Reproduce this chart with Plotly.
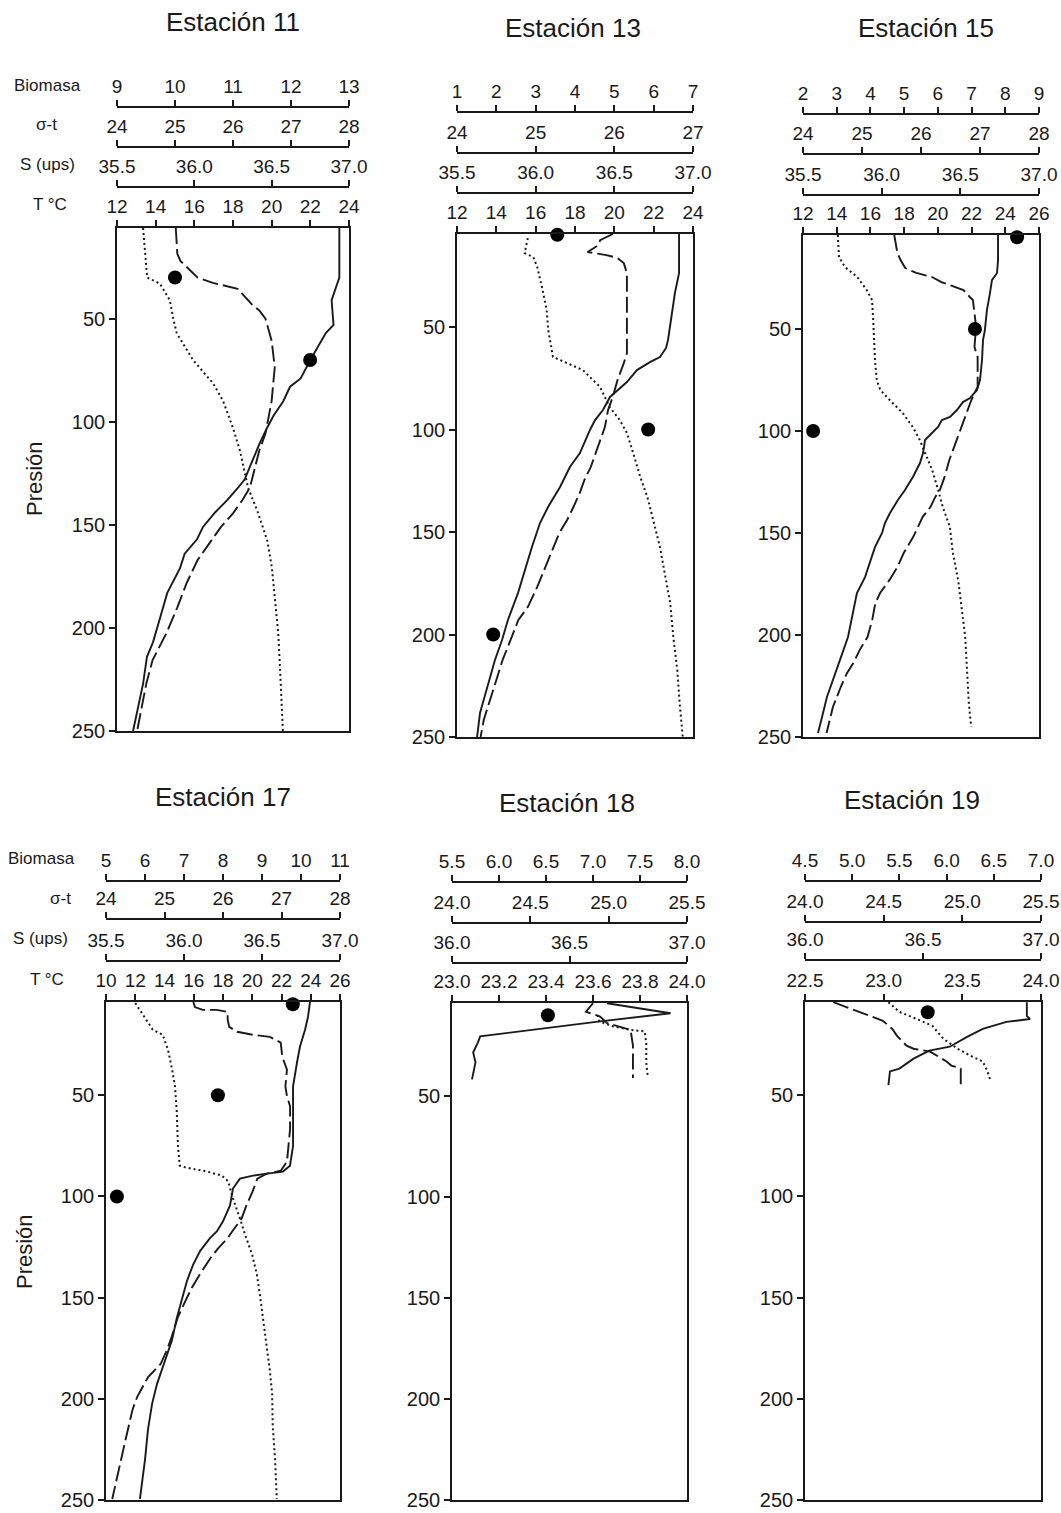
import plotly.graph_objects as go

# ---------------- data: pressure (dbar) vs. property, per station ----------------
# Estación 11
e11_p_temp = [6, 30, 41, 50, 53, 57, 70, 79, 83, 90, 97, 103, 110, 119, 128, 132, 138, 144, 151, 157,
              164, 171, 183, 196, 207, 214, 227, 250]
e11_temp = [23.5, 23.5, 23.1, 23.2, 23.2, 22.8, 22.0, 21.5, 20.95, 20.6, 20.1, 19.76, 19.4, 19.0, 18.6,
            18.26, 17.7, 17.07, 16.45, 16.14, 15.5, 15.26, 14.6, 14.2, 13.86, 13.55, 13.35, 12.83]
e11_p_sal = [6, 18.5, 22, 30, 32.6, 35.5, 38, 43.7, 46, 50, 60.7, 73.7, 81.5, 89.7, 97.9, 105.7, 113.9,
             122.2, 131.8, 138.1, 144.4, 151.2, 160.9, 167.2, 178.3, 190, 202.5, 215.6, 226.8, 250]
e11_sal = [35.88, 35.89, 35.91, 36.02, 36.12, 36.28, 36.31, 36.38, 36.42, 36.46, 36.50, 36.52, 36.51,
           36.50, 36.48, 36.46, 36.42, 36.39, 36.36, 36.31, 36.25, 36.17, 36.08, 36.02, 35.95, 35.89,
           35.82, 35.73, 35.69, 35.63]
e11_p_sig = [6, 30, 33, 41, 50, 57, 70, 81.5, 90, 103, 114, 125, 132, 144, 157.5, 170.6, 186.6, 202.5,
             219, 235, 250]
e11_sig = [24.45, 24.52, 24.74, 24.91, 24.97, 25.03, 25.31, 25.66, 25.83, 26.0, 26.12, 26.21, 26.26,
           26.43, 26.59, 26.67, 26.72, 26.78, 26.81, 26.84, 26.86]
e11_p_bio = [30, 70]
e11_bio = [10.0, 12.33]

# Estación 13
e13_p_temp = [4.6, 23.7, 33.4, 43.2, 51.5, 56.3, 60.2, 64.6, 67.1, 71, 76.8, 84.1, 90.5, 95.4, 100.2,
              111.5, 118.3, 128, 137.8, 145.6, 157.3, 168.5, 179.8, 192.9, 202.7, 212.4, 225.6, 238.3, 250]
e13_temp = [23.29, 23.29, 23.08, 22.93, 22.78, 22.73, 22.63, 22.32, 21.81, 21.15, 20.64, 19.78, 19.42,
            19.02, 18.76, 18.25, 17.74, 17.24, 16.63, 16.22, 15.81, 15.46, 15.10, 14.59, 14.29, 13.93,
            13.53, 13.17, 13.02]
e13_p_sal = [4.6, 7.6, 10, 13.4, 14.9, 16.3, 18.8, 23.7, 51.5, 62.7, 67.6, 75.9, 84.1, 90.5, 98.8, 105.1,
             111.5, 118.3, 124.6, 131, 137.8, 144.1, 150.5, 160.2, 167.1, 176.8, 186.6, 192.9, 202.7,
             212.4, 222.2, 232, 241.7, 250]
e13_sal = [36.49, 36.41, 36.40, 36.33, 36.45, 36.52, 36.56, 36.58, 36.58, 36.58, 36.56, 36.52, 36.49,
           36.46, 36.44, 36.41, 36.38, 36.35, 36.31, 36.28, 36.24, 36.20, 36.15, 36.10, 36.06, 36.01,
           35.95, 35.89, 35.84, 35.79, 35.75, 35.71, 35.67, 35.65]
e13_p_sig = [6.6, 13.9, 15.9, 20.7, 30.5, 41.7, 51.5, 56.3, 64.6, 67.6, 71, 79.3, 89, 95.4, 101.7, 111.5,
             123.2, 132.9, 144.1, 157.3, 170, 184.6, 201.2, 217.3, 233.4, 250]
e13_sig = [24.90, 24.86, 24.97, 25.02, 25.08, 25.14, 25.16, 25.18, 25.22, 25.40, 25.60, 25.82, 25.94,
           26.07, 26.16, 26.24, 26.33, 26.42, 26.49, 26.58, 26.64, 26.71, 26.75, 26.80, 26.83, 26.87]
e13_p_bio = [5, 100, 200]
e13_bio = [3.55, 5.86, 1.92]

# Estación 15
e15_p_temp = [3.9, 16.2, 22.5, 26, 32.4, 40.7, 50.5, 55.4, 65.2, 75, 79.9, 83.8, 85.8, 89.7, 93.1, 94.6,
              98, 102, 104.4, 110.8, 115.7, 122.5, 128.9, 133.8, 140.2, 145.1, 150, 156.9, 164.7, 171.6,
              179.4, 189.2, 201, 212.3, 222, 230.4, 240.2, 248]
e15_temp = [23.57, 23.57, 23.51, 23.21, 23.09, 22.91, 22.79, 22.68, 22.62, 22.50, 22.32, 21.91, 21.49,
            21.13, 20.72, 20.24, 20.01, 19.53, 19.24, 19.12, 18.94, 18.52, 18.05, 17.63, 17.16, 16.86,
            16.69, 16.27, 15.97, 15.68, 15.20, 14.97, 14.67, 14.19, 13.78, 13.42, 13.13, 12.89]
e15_p_sal = [3.9, 12.7, 16.2, 20.1, 22.5, 24.5, 27, 30.9, 34.3, 35.8, 42.2, 49, 58.8, 63.7, 71.6, 78.4,
             84.8, 91.2, 99.5, 105.9, 114.2, 122.5, 128.9, 132.4, 137.3, 142.2, 147.1, 152, 159.8, 166.7,
             173, 179.4, 184.3, 192.6, 201, 207.4, 213.7, 218.6, 225.5, 235.3, 241.7, 248]
e15_sal = [36.08, 36.10, 36.12, 36.15, 36.22, 36.32, 36.38, 36.52, 36.56, 36.58, 36.59, 36.60, 36.59,
           36.61, 36.61, 36.61, 36.57, 36.54, 36.50, 36.47, 36.43, 36.40, 36.37, 36.34, 36.31, 36.26,
           36.23, 36.20, 36.14, 36.10, 36.05, 35.99, 35.96, 35.94, 35.91, 35.86, 35.82, 35.78, 35.74,
           35.69, 35.67, 35.65]
e15_p_sig = [3.9, 14.7, 19.6, 24.5, 30.9, 35.8, 45.6, 55.4, 65.2, 75, 79.9, 84.8, 91.2, 98, 104.4, 110.8,
             119.1, 128.9, 137.3, 147.1, 159.8, 173, 186.3, 201, 217.2, 233.3, 245.1]
e15_sig = [24.59, 24.61, 24.71, 24.92, 25.08, 25.17, 25.19, 25.20, 25.22, 25.25, 25.31, 25.47, 25.69,
           25.86, 25.98, 26.07, 26.19, 26.29, 26.37, 26.49, 26.54, 26.63, 26.69, 26.75, 26.78, 26.81, 26.85]
e15_p_bio = [5, 50, 100]
e15_bio = [8.35, 7.10, 2.30]

# Estación 17
e17_p_temp = [3.9, 11.3, 17.6, 26, 33.8, 45.6, 50.5, 58.3, 75, 84.8, 87.7, 88.7, 89.7, 91.2, 96.1, 104.4,
              112.3, 117.2, 120.6, 127, 133.8, 141.7, 150, 159.8, 171.1, 180.9, 192.6, 202.5, 215.2,
              229.9, 249.5]
e17_temp = [23.95, 23.81, 23.61, 23.26, 23.06, 22.79, 22.79, 22.79, 22.79, 22.58, 22.10, 21.01, 20.05,
            19.16, 18.68, 18.48, 18.0, 17.59, 17.11, 16.43, 15.95, 15.54, 15.20, 14.85, 14.51, 14.03,
            13.49, 13.15, 12.87, 12.67, 12.32]
e17_p_sal = [3.9, 6.4, 7.8, 7.8, 8.8, 12.7, 16.2, 18.6, 20.1, 21.1, 24, 30.9, 37.3, 45.6, 50.5, 55.4,
             66.7, 75, 82.8, 87.3, 88.7, 91.2, 97.5, 104.4, 110.8, 117.2, 120.6, 125.5, 130.4, 138.7,
             145.1, 151.5, 159.8, 169.6, 176, 182.8, 189.2, 199, 205.4, 218.6, 231.9, 249.5]
e17_sal = [36.06, 36.07, 36.12, 36.21, 36.28, 36.28, 36.29, 36.34, 36.44, 36.55, 36.62, 36.63, 36.66,
           36.65, 36.66, 36.68, 36.68, 36.67, 36.66, 36.62, 36.53, 36.47, 36.44, 36.40, 36.37, 36.31,
           36.28, 36.22, 36.17, 36.10, 36.05, 36.01, 35.96, 35.92, 35.89, 35.85, 35.77, 35.70, 35.67,
           35.63, 35.59, 35.54]
e17_p_sig = [4.4, 7.8, 12.7, 17.6, 20.1, 27.5, 37.3, 45.6, 58.3, 75, 84.8, 85.8, 87.7, 89.7, 92.6, 101,
             110.8, 119.1, 128.9, 138.7, 148.5, 159.8, 173, 185.8, 197.5, 213.7, 229.9, 249.5]
e17_sig = [24.50, 24.58, 24.70, 24.80, 24.97, 25.06, 25.13, 25.18, 25.21, 25.23, 25.26, 25.38, 25.73,
           25.98, 26.09, 26.17, 26.29, 26.38, 26.50, 26.58, 26.63, 26.68, 26.75, 26.80, 26.84, 26.85,
           26.89, 26.92]
e17_p_bio = [5, 50, 100]
e17_bio = [9.79, 7.87, 5.28]

# Estación 18
e18_p_temp = [4, 6, 9, 13, 17, 20.4, 23.5, 28.4, 33.3, 41.7]
e18_temp = [23.66, 23.77, 23.93, 23.63, 23.34, 23.12, 23.11, 23.09, 23.10, 23.085]
e18_p_sal = [4, 8.2, 10.6, 13.9, 17.2, 25, 35, 41]
e18_sal = [36.60, 36.57, 36.63, 36.66, 36.76, 36.77, 36.77, 36.77]
e18_p_sig = [9.8, 13, 15.5, 17.2, 18, 23.7, 33.5, 40.8]
e18_sig = [24.93, 24.94, 25.03, 25.14, 25.23, 25.24, 25.24, 25.25]
e18_p_bio = [10]
e18_bio = [6.52]

# Estación 19
e19_p_temp = [4, 10.8, 12.3, 13.7, 17.2, 21.1, 26, 27.9, 31.9, 36.8, 38.2, 45]
e19_temp = [23.91, 23.91, 23.93, 23.78, 23.63, 23.53, 23.42, 23.29, 23.19, 23.10, 23.04, 23.03]
e19_p_sal = [4, 8.3, 9.8, 13.2, 17.2, 20.6, 25.5, 27, 28.4, 33.3, 35.3, 36.8, 45]
e19_sal = [36.12, 36.22, 36.25, 36.33, 36.37, 36.39, 36.43, 36.46, 36.53, 36.60, 36.62, 36.66, 36.66]
e19_p_sig = [4, 8.8, 12.3, 15.7, 22.1, 27, 30.4, 33.3, 38.2, 43.1]
e19_sig = [24.53, 24.60, 24.71, 24.81, 24.88, 24.97, 25.05, 25.13, 25.16, 25.18]
e19_p_bio = [9]
e19_bio = [5.8]

# ---------------- axis scales per station ----------------
bio_ranges = [[9, 13], [1, 7], [2, 9], [5, 11], [5.5, 8.0], [4.5, 7.0]]
bio_dticks = [1, 1, 1, 1, 0.5, 0.5]
sig_ranges = [[24, 28], [24, 27], [24, 28], [24, 28], [24.0, 25.5], [24.0, 25.5]]
sig_dticks = [1, 1, 1, 1, 0.5, 0.5]
sal_ranges = [[35.5, 37.0]] * 4 + [[36.0, 37.0]] * 2
temp_ranges = [[12, 24], [12, 24], [12, 26], [10, 26], [23.0, 24.0], [22.5, 24.0]]
temp_dticks = [2, 2, 2, 2, 0.2, 0.5]
pressure_ticks = [50, 100, 150, 200, 250]
titles = ["Estación 11", "Estación 13", "Estación 15", "Estación 17", "Estación 18", "Estación 19"]
p_top = [6.0, 4.6, 3.9, 3.9, 3.9, 3.9]

stations = [
    (e11_p_temp, e11_temp, e11_p_sal, e11_sal, e11_p_sig, e11_sig, e11_p_bio, e11_bio),
    (e13_p_temp, e13_temp, e13_p_sal, e13_sal, e13_p_sig, e13_sig, e13_p_bio, e13_bio),
    (e15_p_temp, e15_temp, e15_p_sal, e15_sal, e15_p_sig, e15_sig, e15_p_bio, e15_bio),
    (e17_p_temp, e17_temp, e17_p_sal, e17_sal, e17_p_sig, e17_sig, e17_p_bio, e17_bio),
    (e18_p_temp, e18_temp, e18_p_sal, e18_sal, e18_p_sig, e18_sig, e18_p_bio, e18_bio),
    (e19_p_temp, e19_temp, e19_p_sal, e19_sal, e19_p_sig, e19_sig, e19_p_bio, e19_bio),
]

# ---------------- page geometry (pixels) ----------------
W, H = 1061, 1513
box_x = [(117, 349), (457, 693), (803, 1039), (106, 340), (452, 687), (805, 1041)]
box_bottom = [731, 737, 737, 1500, 1500, 1500]
# y of the axis lines: biomasa, sigma-t, salinity, temperature (= top of frame)
axis_y = [(107, 147, 187, 228), (112, 153, 193, 234), (114, 154, 195, 235),
          (881, 919, 961, 1002), (882, 923, 963, 1003), (881, 922, 960, 1002)]
title_pos = [(233, 22), (573, 28), (926, 28), (223, 797), (567, 803), (912, 800)]

INK = "#1a1a1a"
FONT = "Arial, Liberation Sans, sans-serif"


def px_x(v):
    return v / W


def px_y(v):
    return 1 - v / H


def fmt_for(d):
    return ".1f" if d < 1 else "d"


fig = go.Figure()
layout = {}
annotations = []

for i, st in enumerate(stations):
    p_t, t, p_s, s, p_g, g, p_b, b = st
    k = 4 * i  # first x-axis index for this panel (0-based)
    xt, xs, xg, xb = (f"x{k + 1}", f"x{k + 2}", f"x{k + 3}", f"x{k + 4}")
    yid = f"y{i + 1}"
    x0, x1 = box_x[i]
    dom_x = [px_x(x0), px_x(x1)]
    yb, yg, ys, yt = axis_y[i]
    dom_y = [px_y(box_bottom[i]), px_y(yt)]

    common = dict(showline=True, linecolor=INK, linewidth=1.6, ticks="outside", ticklen=6,
                  tickwidth=1.5, tickcolor=INK, showgrid=False, zeroline=False, side="top",
                  automargin=False, ticklabeloverflow="allow",
                  tickfont=dict(family=FONT, size=19, color=INK), domain=dom_x)

    def name(ax):
        return "xaxis" if ax == "x1" else "xaxis" + ax[1:]

    layout[name(xt)] = dict(common, range=temp_ranges[i], dtick=temp_dticks[i],
                            tick0=temp_ranges[i][0], tickformat=fmt_for(temp_dticks[i]),
                            anchor=yid, mirror=True)
    layout[name(xs)] = dict(common, range=sal_ranges[i], dtick=0.5, tick0=sal_ranges[i][0],
                            tickformat=".1f", anchor="free", overlaying=xt,
                            position=px_y(ys))
    layout[name(xg)] = dict(common, range=sig_ranges[i], dtick=sig_dticks[i],
                            tick0=sig_ranges[i][0], tickformat=fmt_for(sig_dticks[i]),
                            anchor="free", overlaying=xt, position=px_y(yg))
    layout[name(xb)] = dict(common, range=bio_ranges[i], dtick=bio_dticks[i],
                            tick0=bio_ranges[i][0], tickformat=fmt_for(bio_dticks[i]),
                            anchor="free", overlaying=xt, position=px_y(yb))
    layout["yaxis" if i == 0 else f"yaxis{i + 1}"] = dict(
        domain=dom_y, range=[250, p_top[i]], anchor=xt, showline=True, mirror=True,
        linecolor=INK, linewidth=1.6, ticks="outside", ticklen=6, tickwidth=1.5, tickcolor=INK,
        tickvals=pressure_ticks, showgrid=False, zeroline=False, automargin=False,
        ticklabeloverflow="allow", tickfont=dict(family=FONT, size=20, color=INK))

    fig.add_trace(go.Scatter(x=g, y=p_g, xaxis=xg, yaxis=yid, mode="lines",
                             line=dict(color=INK, width=2, dash="2px,3px"), showlegend=False))
    fig.add_trace(go.Scatter(x=s, y=p_s, xaxis=xs, yaxis=yid, mode="lines",
                             line=dict(color=INK, width=1.9, dash="16px,5px"), showlegend=False))
    fig.add_trace(go.Scatter(x=t, y=p_t, xaxis=xt, yaxis=yid, mode="lines",
                             line=dict(color=INK, width=1.9), showlegend=False))
    fig.add_trace(go.Scatter(x=b, y=p_b, xaxis=xb, yaxis=yid, mode="markers",
                             marker=dict(color="black", size=14), cliponaxis=False,
                             showlegend=False))

    tx, ty = title_pos[i]
    annotations.append(dict(text=titles[i], x=px_x(tx), y=px_y(ty), xref="paper", yref="paper",
                            xanchor="center", yanchor="middle", showarrow=False,
                            font=dict(family=FONT, size=26, color=INK)))

# row labels for the stacked top axes and the pressure title (left column only)
row_labels = ["Biomasa", "σ-t", "S (ups)", "T °C"]
row_label_pos = [
    [(47, 85), (46, 124), (47, 165), (50, 205)],
    [(41, 858), (60, 898), (40, 938), (47, 979)],
]
for pos in row_label_pos:
    for lab, (lx, ly) in zip(row_labels, pos):
        annotations.append(dict(text=lab, x=px_x(lx), y=px_y(ly), xref="paper", yref="paper",
                                xanchor="center", yanchor="middle", showarrow=False,
                                font=dict(family=FONT, size=17, color=INK)))
for (lx, ly) in [(34, 479), (24, 1252)]:
    annotations.append(dict(text="Presión", x=px_x(lx), y=px_y(ly), xref="paper", yref="paper",
                            xanchor="center", yanchor="middle", showarrow=False, textangle=-90,
                            font=dict(family=FONT, size=22, color=INK)))

fig.update_layout(width=W, height=H, margin=dict(l=0, r=0, t=0, b=0, autoexpand=False),
                  paper_bgcolor="white", plot_bgcolor="white", annotations=annotations, **layout)

fig.write_html("out.html")
